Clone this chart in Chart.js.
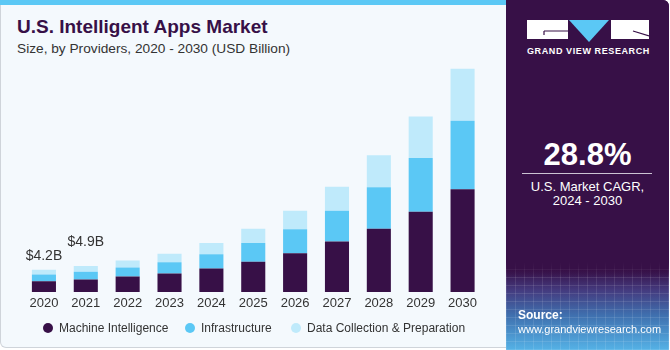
<!DOCTYPE html>
<html lang="en">
<head>
<meta charset="UTF-8">
<title>U.S. Intelligent Apps Market</title>
<script src="https://cdn.jsdelivr.net/npm/chart.js"></script>
<style>
    html, body {
        margin: 0;
        padding: 0;
        width: 670px;
        height: 350px;
        overflow: hidden;
        background: #ffffff;
        font-family: 'Liberation Sans', Arial, sans-serif;
    }
    .left {
        position: absolute;
        left: 0; top: 0;
        width: 507px; height: 348px;
        box-sizing: border-box;
        background: #f4f9fd;
        border: 1px solid #cfd4da;
        border-top: none;
        border-bottom-left-radius: 6px;
    }
    .topbar {
        position: absolute;
        left: 0; top: 0;
        width: 507px; height: 5px;
        background: #5bc8f5;
    }
    .title {
        position: absolute;
        left: 17px; top: 16px;
        font-size: 19px;
        font-weight: bold;
        color: #371047;
        white-space: nowrap;
    }
    .subtitle {
        position: absolute;
        left: 17px; top: 41px;
        font-size: 13.7px;
        color: #333;
        white-space: nowrap;
    }
    #chart-wrap {
        position: absolute;
        left: 0; top: 0;
        width: 505px; height: 350px;
    }
    .legend {
        position: absolute;
        top: 321px;
        left: 0;
        font-size: 12px;
        color: #333;
    }
    .legend .item {
        position: absolute;
        white-space: nowrap;
        line-height: 14px;
    }
    .legend .dot {
        display: inline-block;
        width: 10px; height: 10px;
        border-radius: 50%;
        margin-right: 6px;
        vertical-align: -1px;
    }
    .right {
        position: absolute;
        left: 506px; top: 0;
        width: 163px; height: 350px;
        border-top-right-radius: 6px;
        background:
            repeating-linear-gradient(90deg, rgba(255,255,255,0.10) 0 1px, transparent 1px 9px),
            repeating-linear-gradient(0deg, rgba(255,255,255,0.10) 0 1px, transparent 1px 8px),
            linear-gradient(180deg, #371047 0, #371047 270px, #443a7e 290px, #3f6fae 315px, #55b2e6 350px);
        overflow: hidden;
    }
    .right .mask {
        position: absolute;
        left: 0; top: 0; width: 100%; height: 278px;
        background: linear-gradient(180deg, #371047 0, #371047 262px, rgba(55,16,71,0) 278px);
    }
    .logo {
        position: absolute;
        left: 21px; top: 20px;
    }
    .brand {
        position: absolute;
        left: 21px; top: 46px;
        width: 121px;
        text-align: center;
        color: #fff;
        font-weight: bold;
        font-size: 9px;
        letter-spacing: 0.6px;
        white-space: nowrap;
    }
    .cagr {
        position: absolute;
        left: 0; width: 163px; top: 139px;
        text-align: center;
        color: #fff;
        font-weight: bold;
        font-size: 31px;
        line-height: 32px;
    }
    .rule {
        position: absolute;
        left: 16px; width: 130px; top: 173px;
        height: 1px;
        background: #cbc3d3;
    }
    .cagr-label {
        position: absolute;
        left: 0; width: 163px; top: 180px;
        text-align: center;
        color: #fff;
        font-size: 13px;
        line-height: 14px;
    }
    .source {
        position: absolute;
        left: 12px; top: 308px;
        color: #fff;
        font-size: 11px;
        line-height: 14px;
        white-space: nowrap;
    }
    .source b { font-size: 12px; }
</style>
</head>
<body>
    <div class="left"></div>
    <div class="topbar"></div>
    <div class="title">U.S. Intelligent Apps Market</div>
    <div class="subtitle">Size, by Providers, 2020 - 2030 (USD Billion)</div>
    <div id="chart-wrap"><canvas id="market-chart" width="505" height="350"></canvas></div>
    <div class="legend" id="legend"></div>

    <div class="right">
        <div class="mask"></div>
        <svg class="logo" width="122" height="22" viewBox="0 0 122 22">
            <rect x="0" y="0" width="41" height="19" fill="#fff"/>
            <polyline points="17,11 41,11" stroke="#371047" stroke-width="1.2" fill="none"/>
            <polyline points="17,11 17,15" stroke="#371047" stroke-width="1.2" fill="none"/>
            <polygon points="42,0 82,0 62,22" fill="#5bc8f5"/>
            <rect x="84" y="0" width="38" height="19" fill="#fff"/>
            <polyline points="106,11 122,16" stroke="#371047" stroke-width="1.2" fill="none"/>
        </svg>
        <div class="brand">GRAND VIEW RESEARCH</div>
        <div class="cagr">28.8%</div>
        <div class="rule"></div>
        <div class="cagr-label">U.S. Market CAGR,<br>2024 - 2030</div>
        <div class="source"><b>Source:</b><br>www.grandviewresearch.com</div>
    </div>

<script>
    const years = ['2020', '2021', '2022', '2023', '2024', '2025', '2026', '2027', '2028', '2029', '2030'];
    const machineIntelligence = [2.0, 2.35, 2.9, 3.5, 4.4, 5.7, 7.3, 9.5, 11.9, 15.1, 19.3];
    const infrastructure = [1.3, 1.45, 1.7, 2.1, 2.7, 3.5, 4.5, 5.8, 7.8, 10.1, 12.9];
    const dataCollection = [0.9, 1.1, 1.3, 1.6, 2.1, 2.7, 3.5, 4.5, 6.0, 7.8, 9.8];
    const seriesNames = ['Machine Intelligence', 'Infrastructure', 'Data Collection & Preparation'];
    const seriesColors = ['#371047', '#5bc8f5', '#bfeafb'];
    const totalLabels = ['$4.2B', '$4.9B'];

    // legend (html, so it can sit exactly under the bars)
    const legendLefts = [43, 185, 291];
    const legend = document.getElementById('legend');
    seriesNames.forEach((name, i) => {
        const item = document.createElement('div');
        item.className = 'item';
        item.style.left = legendLefts[i] + 'px';
        item.innerHTML = '<span class="dot" style="background:' + seriesColors[i] + '"></span>' + name;
        legend.appendChild(item);
    });

    // $ labels above the first two bars
    const totalsPlugin = {
        id: 'totals',
        afterDatasetsDraw(chart) {
            const ctx = chart.ctx;
            const top = chart.getDatasetMeta(2);
            const lift = [14, 24];
            ctx.save();
            ctx.font = '14px "Liberation Sans", Arial, sans-serif';
            ctx.fillStyle = '#333';
            ctx.textAlign = 'center';
            ctx.textBaseline = 'middle';
            totalLabels.forEach((txt, i) => {
                const bar = top.data[i];
                ctx.fillText(txt, bar.x, bar.y - lift[i]);
            });
            ctx.restore();
        }
    };

    const ctx = document.getElementById('market-chart').getContext('2d');
    new Chart(ctx, {
        type: 'bar',
        data: {
            labels: years,
            datasets: [
                { label: seriesNames[0], data: machineIntelligence, backgroundColor: seriesColors[0] },
                { label: seriesNames[1], data: infrastructure, backgroundColor: seriesColors[1] },
                { label: seriesNames[2], data: dataCollection, backgroundColor: seriesColors[2] }
            ]
        },
        options: {
            responsive: false,
            animation: false,
            categoryPercentage: 1,
            barPercentage: 0.575,
            layout: { padding: { left: 23, right: 21.5, top: 58, bottom: 0 } },
            plugins: {
                legend: { display: false },
                tooltip: { enabled: false }
            },
            scales: {
                x: {
                    stacked: true,
                    grid: { display: false, drawTicks: false },
                    border: { display: false },
                    ticks: {
                        color: '#333',
                        font: { family: '"Liberation Sans", Arial, sans-serif', size: 13 },
                        padding: 4
                    },
                    afterFit(scale) { scale.height = 58; }
                },
                y: {
                    stacked: true,
                    display: false,
                    min: 0,
                    max: 44
                }
            }
        },
        plugins: [totalsPlugin]
    });
</script>
</body>
</html>
